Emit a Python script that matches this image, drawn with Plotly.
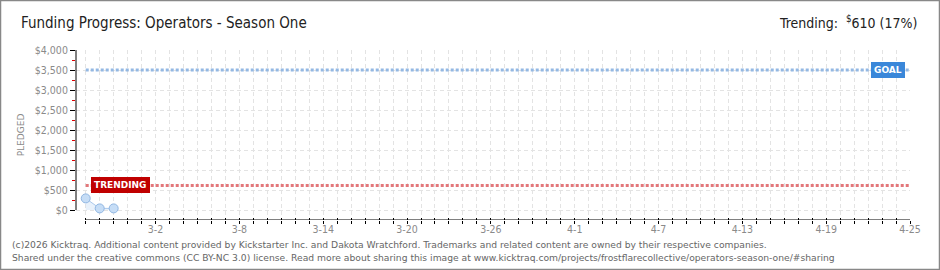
import plotly.graph_objects as go
import pandas as pd

# ---- data ----
dates = ["2026-02-25", "2026-02-26", "2026-02-27"]
pledged = [290, 40, 40]
goal = 3500
trending = 610
trending_pct = 17
x_start = "2026-02-25"
x_end = "2026-04-25"
y_tick_vals = [0, 500, 1000, 1500, 2000, 2500, 3000, 3500, 4000]
y_tick_text = ["$0", "$500", "$1,000", "$1,500", "$2,000", "$2,500", "$3,000", "$3,500", "$4,000"]
y_minor_vals = [250, 750, 1250, 1750, 2250, 2750, 3250, 3750]
title_text = "Funding Progress: Operators - Season One"
footer1 = "(c)2026 Kicktraq. Additional content provided by Kickstarter Inc. and Dakota Wratchford. Trademarks and related content are owned by their respective companies."
footer2 = "Shared under the creative commons (CC BY-NC 3.0) license. Read more about sharing this image at www.kicktraq.com/projects/frostflarecollective/operators-season-one/#sharing"

W, H = 940, 270
ML, MR, MT, MB = 76, 30, 50, 50
PW, PH = W - ML - MR, H - MT - MB

def px_x(x):
    return (x - ML) / PW

def px_y(y):
    return (H - MB - y) / PH

# axis padding: ~0.7 day left of the first date, 250 below $0 (offset axes)
x_range_start = (pd.Timestamp(x_start) - pd.Timedelta(hours=16.7)).strftime("%Y-%m-%d %H:%M")
y_range = [-250, 4000]

day_ticks = [d.strftime("%Y-%m-%d") for d in pd.date_range(x_start, x_end, freq="D")]
label_start = pd.Timestamp("2026-03-02")
tick_text = []
for s in day_ticks:
    d = pd.Timestamp(s)
    tick_text.append(f"{d.month}-{d.day}" if d >= label_start and (d - label_start).days % 6 == 0 else " ")

fig = go.Figure()

# series: fill + line + markers
fig.add_trace(go.Scatter(
    x=dates, y=pledged, mode="lines+markers",
    line=dict(color="#a9c8ec", width=1),
    fill="tozeroy", fillcolor="rgba(205,225,247,0.45)",
    marker=dict(size=9, color="#c6ddf6", line=dict(color="#90b6e2", width=1)),
    cliponaxis=False, showlegend=False, hoverinfo="skip",
))
# goal line
fig.add_trace(go.Scatter(
    x=[x_start, x_end], y=[goal, goal], mode="lines",
    line=dict(color="#93b8e3", width=3, dash="3px,2px"),
    showlegend=False, hoverinfo="skip",
))
# trending line
fig.add_trace(go.Scatter(
    x=[x_start, x_end], y=[trending, trending], mode="lines",
    line=dict(color="#e3777a", width=3, dash="3px,2px"),
    showlegend=False, hoverinfo="skip",
))
# invisible trace to host the overlay tick axis (upper half of the cross ticks)
fig.add_trace(go.Scatter(
    x=[x_start, x_end], y=[trending, trending], mode="lines", xaxis="x2",
    line=dict(color="rgba(0,0,0,0)", width=0),
    showlegend=False, hoverinfo="skip",
))

tick_font = dict(family="DejaVu Sans Condensed, DejaVu Sans", size=10.5, color="#8a8a8a")

fig.update_layout(
    width=W, height=H,
    margin=dict(l=ML, r=MR, t=MT, b=MB),
    paper_bgcolor="white", plot_bgcolor="white",
    xaxis=dict(
        domain=[0, 1], anchor="y",
        range=[x_range_start, x_end], type="date",
        tickmode="array", tickvals=day_ticks, ticktext=tick_text,
        ticks="outside", ticklen=3, tickcolor="#000", tickwidth=1,
        showline=False,
        showgrid=True, gridcolor="#e3e3e3", griddash="4px,3px", gridwidth=1,
        tickfont=tick_font, tickangle=0, zeroline=False,
        ticklabelstandoff=-4,
    ),
    xaxis2=dict(
        domain=[0, 1], anchor="y", overlaying="x",
        range=[x_range_start, x_end], type="date",
        tickmode="array", tickvals=day_ticks,
        ticks="inside", ticklen=2, tickcolor="#000", tickwidth=1,
        showticklabels=False, showline=False, showgrid=False, zeroline=False,
    ),
    yaxis=dict(
        domain=[0, 1], anchor="x",
        range=y_range,
        tickmode="array", tickvals=y_tick_vals, ticktext=y_tick_text,
        ticks="outside", ticklen=5, tickcolor="#000", tickwidth=1,
        showline=False,
        showgrid=True, gridcolor="#e3e3e3", griddash="4px,3px", gridwidth=1,
        minor=dict(tickmode="array", tickvals=y_minor_vals, ticks="outside", ticklen=3,
                   tickcolor="#e00000", showgrid=False),
        tickfont=tick_font, zeroline=False,
        title=dict(text="PLEDGED", font=dict(family="DejaVu Sans", size=9, color="#8a8a8a"), standoff=8),
    ),
)

# axis lines (offset style: y from $0 to $4,000, x from first to last day)
fig.add_shape(type="line", xref="paper", yref="y", x0=0, x1=0,
              y0=y_tick_vals[0], y1=y_tick_vals[-1], line=dict(color="#000", width=1), layer="above")
fig.add_shape(type="line", xref="x", yref="y", x0=x_start, x1=x_end,
              y0=y_range[0], y1=y_range[0], line=dict(color="#000", width=1), layer="above")

annotations = [
    dict(text=title_text, x=px_x(19), y=px_y(23), xref="paper", yref="paper",
         xanchor="left", yanchor="middle", showarrow=False,
         font=dict(family="DejaVu Sans Condensed, DejaVu Sans", size=15, color="#222")),
    dict(text=f"Trending:  <sup>$</sup>{trending} ({trending_pct}%)", x=px_x(919), y=px_y(22), xref="paper", yref="paper",
         xanchor="right", yanchor="middle", showarrow=False,
         font=dict(family="DejaVu Sans Condensed, DejaVu Sans", size=14, color="#222")),
    dict(text=footer1, x=px_x(10), y=px_y(244), xref="paper", yref="paper",
         xanchor="left", yanchor="middle", showarrow=False,
         font=dict(family="DejaVu Sans", size=9.2, color="#666")),
    dict(text=footer2, x=px_x(10), y=px_y(257), xref="paper", yref="paper",
         xanchor="left", yanchor="middle", showarrow=False,
         font=dict(family="DejaVu Sans", size=9.2, color="#666")),
    dict(text="<b>GOAL</b>", x=px_x(888), y=px_y(70), xref="paper", yref="paper",
         xanchor="center", yanchor="middle", showarrow=False,
         bgcolor="#3a87d9", bordercolor="#3a87d9", borderpad=2,
         font=dict(family="DejaVu Sans", size=9, color="white")),
    dict(text="<b>TRENDING</b>", x=px_x(120), y=px_y(185), xref="paper", yref="paper",
         xanchor="center", yanchor="middle", showarrow=False,
         bgcolor="#c00000", bordercolor="#c00000", borderpad=2,
         font=dict(family="DejaVu Sans", size=9, color="white")),
]
fig.update_layout(annotations=annotations)

fig.add_shape(type="rect", xref="paper", yref="paper",
              x0=px_x(0.5), x1=px_x(W - 0.5), y0=px_y(0.5), y1=px_y(H - 0.5),
              line=dict(color="#888", width=1.5), layer="above")

fig.write_html("out.html")
